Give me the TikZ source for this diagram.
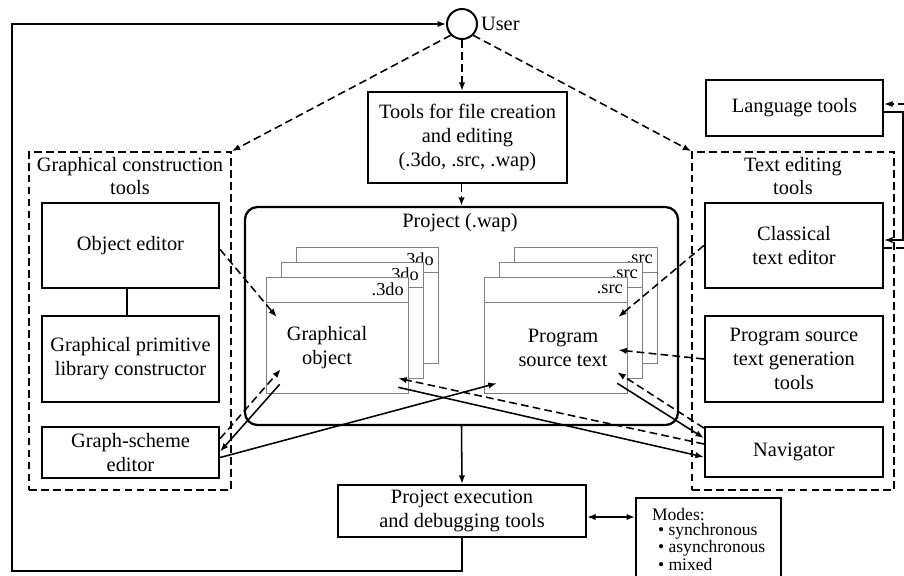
\documentclass[tikz,border=0pt]{standalone}
\usepackage{fontspec}
\setmainfont{Liberation Serif}
\usetikzlibrary{arrows.meta, positioning}

\newcommand{\diagfont}{\fontsize{14.5}{17}\selectfont}
\newcommand{\winfont}{\fontsize{13}{15}\selectfont}
\newcommand{\modesfont}{\fontsize{12.5}{10.7}\selectfont}

\tikzset{
  tbox/.style={draw, line width=1.6pt, align=center, inner sep=0pt, font=\diagfont},
  grp/.style={draw, line width=1.1pt, dash pattern=on 5.5pt off 3pt, inner sep=0pt},
  win/.style={draw=gray, fill=white, line width=0.7pt},
  winlbl/.style={font=\winfont, inner sep=0pt},
  lbl/.style={font=\diagfont, align=center, inner sep=1pt},
  conn/.style={line width=1.1pt, -{Latex[length=6pt,width=4.5pt]}},
  dconn/.style={conn, dash pattern=on 5.5pt off 3pt},
  dline/.style={line width=1.1pt, dash pattern=on 5.5pt off 3pt},
  dbl/.style={line width=1.1pt, {Latex[length=6pt,width=4.5pt]}-{Latex[length=6pt,width=4.5pt]}}
}

\begin{document}
\begin{tikzpicture}[x=0.025cm, y=-0.025cm]
  \useasboundingbox (0,0) rectangle (904,575);
  \clip (0,0) rectangle (904,575);

  % user and top
  \node[circle, draw, line width=1.4pt, minimum size=0.75cm, inner sep=0pt] (user) at (462,24) {};
  \node[lbl, right=1pt of user] (userlbl) {User};
  \node[tbox, minimum width=4.975cm, minimum height=2.275cm] (tools) at (467.5,137.5)
    {Tools for file creation\\and editing\\(.3do, .src, .wap)};

  % graphical construction tools
  \node[grp, minimum width=5.05cm, minimum height=8.45cm] (gleft) at (130,321) {};
  \node[lbl] (glttl) at (130,176) {Graphical construction\\tools};
  \node[tbox, minimum width=4.425cm, minimum height=2.125cm] (objed) at (130.5,245.5) {Object editor};
  \node[tbox, minimum width=4.425cm, minimum height=2.15cm] (primlib) at (130.5,359)
    {Graphical primitive\\library constructor};
  \node[tbox, minimum width=4.425cm, minimum height=1.275cm] (gsched) at (130.5,452.5)
    {Graph-scheme\\editor};

  % text editing tools
  \node[tbox, minimum width=4.425cm, minimum height=1.4cm] (langt) at (794.5,108) {Language tools};
  \node[grp, minimum width=5.05cm, minimum height=8.45cm] (gright) at (793,321) {};
  \node[lbl] (grttl) at (793,176) {Text editing\\tools};
  \node[tbox, minimum width=4.45cm, minimum height=2.125cm] (clased) at (794,245.5)
    {Classical\\text editor};
  \node[tbox, minimum width=4.45cm, minimum height=2.15cm] (srcgen) at (794,359)
    {Program source\\text generation\\tools};
  \node[tbox, minimum width=4.45cm, minimum height=1.25cm] (navig) at (794,452) {Navigator};

  % project
  \node[draw, line width=1.6pt, rounded corners=9pt, minimum width=10.825cm, minimum height=5.45cm] (proj) at (461.5,316) {};
  \node[lbl] (projttl) at (460,223) {Project (.wap)};
  \foreach \k in {2,1,0} {
    \draw[win] (266+15*\k,277-15*\k) rectangle ++(142,116);
    \draw[win] (266+15*\k,302-15*\k) -- ++(142,0);
    \node[winlbl, anchor=east] (gl\k) at (404+15*\k,289.5-15*\k) {.3do};
    \draw[win] (484+15*\k,277-15*\k) rectangle ++(143,116);
    \draw[win] (484+15*\k,302-15*\k) -- ++(143,0);
    \node[winlbl, anchor=east] (sl\k) at (623+15*\k,289.5-15*\k) {.src};
  }
  \node[minimum width=3.55cm, minimum height=2.9cm, inner sep=0pt] (gobj) at (337,335) {};
  \node[minimum width=3.575cm, minimum height=2.9cm, inner sep=0pt] (srcw) at (555.5,335) {};
  \node[lbl] (gobjtxt) at (327,348) {Graphical\\object};
  \node[lbl] (srctxt) at (563,348) {Program\\source text};

  % execution
  \node[tbox, minimum width=6.2cm, minimum height=1.3cm] (exec) at (462,511)
    {Project execution\\and debugging tools};
  \node[draw, line width=1.6pt, anchor=north west, align=left, font=\modesfont,
        inner xsep=0pt, inner ysep=0.25cm, minimum width=3.625cm] (modes) at (635,497)
    {Modes:\\
     \hspace*{0.15cm}\textbullet\ synchronous\\
     \hspace*{0.15cm}\textbullet\ asynchronous\\
     \hspace*{0.15cm}\textbullet\ mixed\\[4pt]};

  \coordinate (fbl) at (12,571);
  \coordinate (langin) at (906,104);
  \coordinate (clout) at (906,248);
  \coordinate (rbend) at (903,240);

  % connectors
  \draw[dconn] (user.south) -- (user.south |- tools.north);
  \draw[dconn] (user.225) -- (gleft.north east);
  \draw[dconn] (user.315) -- (gright.north west);
  \draw[dconn] (proj.north |- tools.south) -- (proj.north);
  \draw[conn] (proj.south) -- (exec.north);
  \draw[conn] (exec.south) |- (fbl) |- (user.west);
  \draw[dbl] ([shift={(0,6)}]exec.east) -- ([shift={(0,6)}]exec.east -| modes.west);

  \draw[line width=1.1pt] (objed.south -| 127,0) -- (primlib.north -| 127,0);
  \draw[dconn] ([shift={(0,4)}]objed.east) -- ([shift={(11,-18)}]gobj.west);
  \draw[dconn] ([shift={(0,-14)}]gsched.east) -- ([shift={(15,-24)}]gobj.south west);
  \draw[conn] ([shift={(14,-9)}]gobj.south west) -- ([shift={(0,-1)}]gsched.east);
  \draw[conn] ([shift={(0,5)}]gsched.east) -- ([shift={(13,-10)}]srcw.south west);

  \draw[conn] ([shift={(-10,-6)}]gobj.south east) -- ([shift={(0,5)}]navig.west);
  \draw[dconn] ([shift={(0,-8)}]navig.west) -- ([shift={(-10,-15)}]gobj.south east);
  \draw[conn] ([shift={(-10,-10)}]srcw.south east) -- ([shift={(0,-14)}]navig.west);
  \draw[dconn] ([shift={(0,-24)}]navig.west) -- ([shift={(-10,-21)}]srcw.south east);
  \draw[dconn] (clased.west) -- ([shift={(-9,-18)}]srcw.east);
  \draw[dconn] (srcgen.west) -- ([shift={(-9,15)}]srcw.east);

  \draw[dconn] (langin) -- (langin -| langt.east);
  \draw[conn] ([shift={(0,4)}]langt.east) -| (rbend) -- (rbend -| clased.east);
  \draw[dline] (clout -| clased.east) -- (clout);
\end{tikzpicture}
\end{document}
